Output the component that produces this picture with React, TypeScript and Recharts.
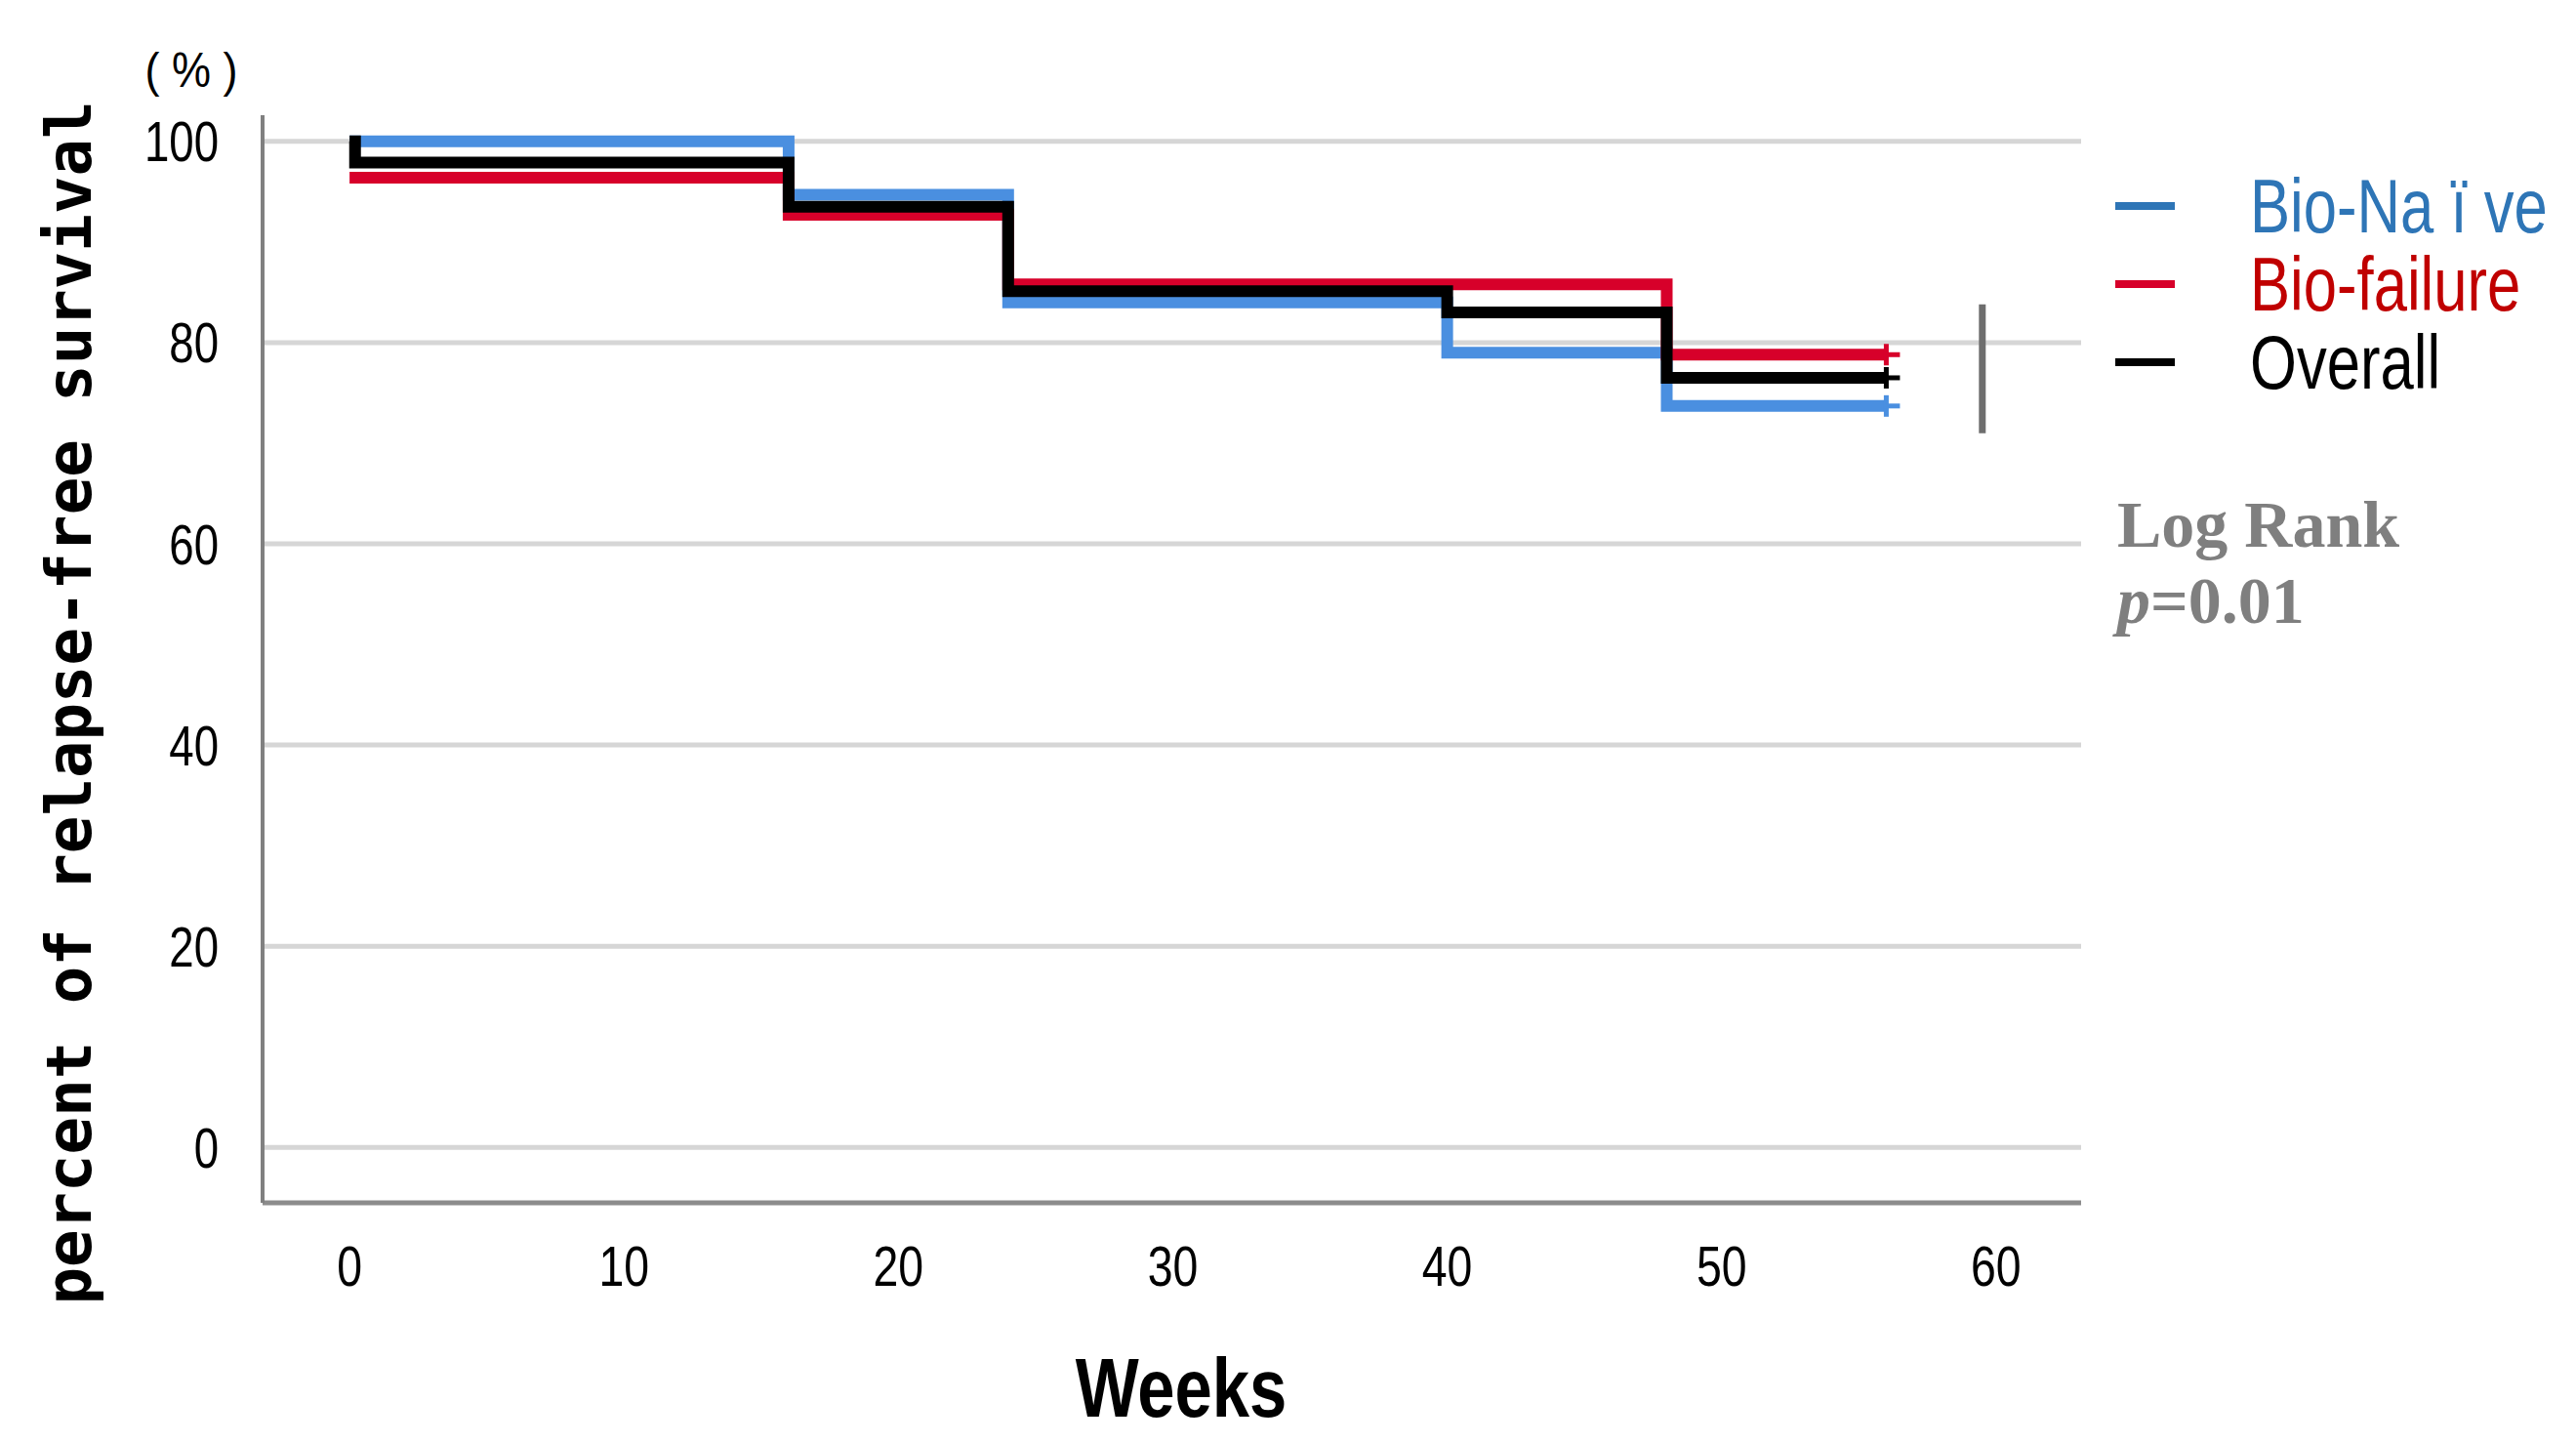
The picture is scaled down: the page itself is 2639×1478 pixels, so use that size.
import { LineChart, Line, XAxis, YAxis, CartesianGrid, Legend, Label, ReferenceLine } from 'recharts';

const W = 2623;
const H = 1462;

const X_TICKS = [0, 10, 20, 30, 40, 50, 60];
const Y_TICKS = [0, 20, 40, 60, 80, 100];

const NAIVE_WEEKS = [0, 16, 24, 40, 48, 56];
const NAIVE_SURV = [100, 94.7, 84.0, 79.0, 73.7, 73.7];

const FAILURE_WEEKS = [0, 16, 24, 48, 56];
const FAILURE_SURV = [96.4, 92.7, 85.8, 78.8, 78.8];

const OVERALL_WEEKS = [0, 0.2, 16, 24, 40, 48, 56];
const OVERALL_SURV = [100, 97.9, 93.5, 85.1, 83.0, 76.5, 76.5];

const SERIES = [
  { name: 'Bio-Na ï ve', key: 'naive', weeks: NAIVE_WEEKS, surv: NAIVE_SURV, stroke: '#4a8fe0', text: '#2e75b6', mark: '#2e75b6' },
  { name: 'Bio-failure', key: 'failure', weeks: FAILURE_WEEKS, surv: FAILURE_SURV, stroke: '#d7002a', text: '#c00000', mark: '#d7002a' },
  { name: 'Overall', key: 'overall', weeks: OVERALL_WEEKS, surv: OVERALL_SURV, stroke: '#000000', text: '#000000', mark: '#000000' },
];

const SANS = "'Liberation Sans', Arial, sans-serif";
const SQUEEZE = 0.8;

const toData = (weeks: number[], surv: number[]) => weeks.map((w, i) => ({ week: w, value: surv[i] }));

const censorDot = (color: string, last: number) => (props: any) => {
  const { cx, cy, index } = props;
  if (index !== last) return <g key={`d${index}`} />;
  return (
    <g key={`d${index}`}>
      <line x1={cx} y1={cy - 11} x2={cx} y2={cy + 11} stroke={color} strokeWidth={5} />
      <line x1={cx - 2} y1={cy} x2={cx + 14} y2={cy} stroke={color} strokeWidth={5} />
    </g>
  );
};

const NarrowTick = ({ x, y, payload, anchor, dy, size }: any) => (
  <text
    transform={`translate(${x},${y}) scale(${SQUEEZE},1)`}
    textAnchor={anchor}
    dy={dy}
    fontFamily={SANS}
    fontSize={size}
    fill="#000"
  >
    {payload.value}
  </text>
);

const LegendBox = () => (
  <div style={{ position: 'relative', width: W, height: H, pointerEvents: 'none' }}>
    {SERIES.map((s, i) => (
      <div key={s.key} style={{ position: 'absolute', left: 2159, top: 203 + i * 80 - 50, height: 100, display: 'flex', alignItems: 'center' }}>
        <div style={{ width: 61, height: 8, background: s.mark }} />
        <span
          style={{
            marginLeft: 77,
            fontFamily: SANS,
            fontSize: 77,
            color: s.text,
            whiteSpace: 'nowrap',
            lineHeight: 1,
            display: 'inline-block',
            transform: `scaleX(${SQUEEZE})`,
            transformOrigin: 'left center',
          }}
        >
          {s.name}
        </span>
      </div>
    ))}
    <div
      style={{
        position: 'absolute',
        left: 2161,
        top: 490,
        fontFamily: "'Liberation Serif', serif",
        fontWeight: 'bold',
        fontSize: 68,
        color: '#7f7f7f',
        lineHeight: '78px',
        whiteSpace: 'nowrap',
      }}
    >
      <div>Log Rank</div>
      <div>
        <i>p</i>=0.01
      </div>
    </div>
  </div>
);

export default function App() {
  return (
    <div style={{ width: W, height: H, background: '#fff' }}>
      <LineChart width={W} height={H} margin={{ top: 110, right: 499, bottom: 138, left: 141 }}>
        <CartesianGrid vertical={false} horizontalValues={Y_TICKS} stroke="#d6d6d6" strokeWidth={5} />
        <XAxis
          type="number"
          dataKey="week"
          domain={[-3.17, 63.1]}
          ticks={X_TICKS}
          allowDataOverflow
          height={100}
          axisLine={{ stroke: '#8c8c8c', strokeWidth: 5 }}
          tickLine={false}
          tickSize={0}
          tickMargin={44}
          tick={<NarrowTick anchor="middle" dy="0.71em" size={58} />}
        >
          <Label
            content={() => (
              <text
                transform={`translate(1202,1414) scale(${SQUEEZE},1)`}
                textAnchor="middle"
                dominantBaseline="central"
                fontFamily={SANS}
                fontWeight="bold"
                fontSize={86}
                fill="#000"
              >
                Weeks
              </text>
            )}
          />
        </XAxis>
        <YAxis
          type="number"
          domain={[-5.5, 102.6]}
          ticks={Y_TICKS}
          allowDataOverflow
          width={120}
          axisLine={{ stroke: '#808080', strokeWidth: 4 }}
          tickLine={false}
          tickSize={0}
          tickMargin={45}
          tick={<NarrowTick anchor="end" dy="0.36em" size={57} />}
        >
          <Label
            content={() => (
              <g>
                <text
                  x={63}
                  y={712}
                  transform="rotate(-90 63 712)"
                  textAnchor="middle"
                  dominantBaseline="central"
                  fontFamily="'DejaVu Sans Mono', 'Liberation Mono', monospace"
                  fontWeight="bold"
                  fontSize={64}
                  fill="#000"
                >
                  percent of relapse-free survival
                </text>
                <text
                  transform="translate(188,64) scale(0.9,1)"
                  textAnchor="middle"
                  dominantBaseline="central"
                  fontFamily={SANS}
                  fontSize={50}
                  fill="#000"
                  xmlSpace="preserve"
                >
                  ( % )
                </text>
              </g>
            )}
          />
        </YAxis>
        <ReferenceLine segment={[{ x: 59.5, y: 83.8 }, { x: 59.5, y: 71.0 }]} stroke="#6e6e6e" strokeWidth={7} />
        {SERIES.map((s) => (
          <Line
            key={s.key}
            name={s.name}
            data={toData(s.weeks, s.surv)}
            dataKey="value"
            type="stepAfter"
            stroke={s.stroke}
            strokeWidth={12}
            strokeLinejoin="miter"
            dot={censorDot(s.stroke, s.weeks.length - 1)}
            activeDot={false}
            isAnimationActive={false}
          />
        ))}
        <Legend
          layout="horizontal"
          align="center"
          verticalAlign="middle"
          wrapperStyle={{ left: 0, top: 0, width: W, height: H }}
          content={() => <LegendBox />}
        />
      </LineChart>
    </div>
  );
}
